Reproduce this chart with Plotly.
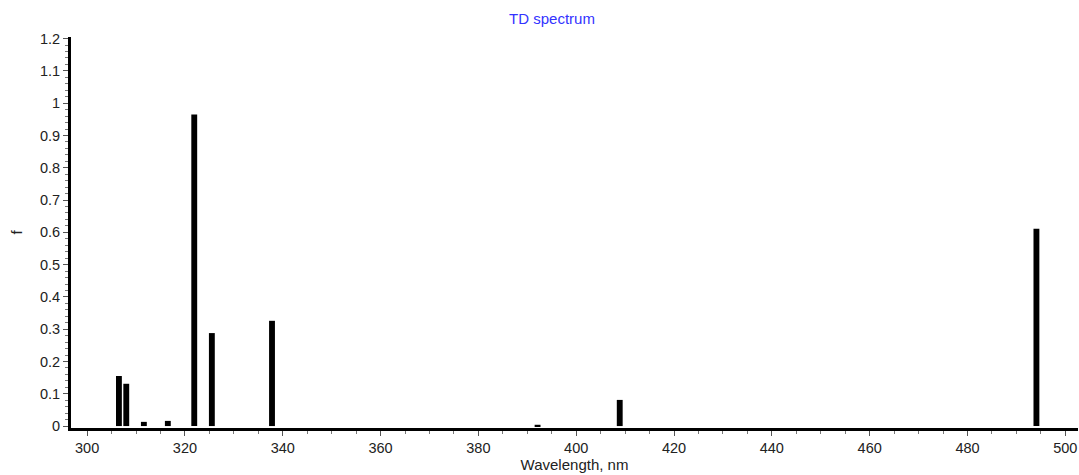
import plotly.graph_objects as go

wavelengths = [306.5, 308.0, 311.6, 316.5, 321.9, 325.5, 337.8, 392.1, 408.9, 494.1]
oscillator_f = [0.155, 0.131, 0.013, 0.016, 0.965, 0.288, 0.326, 0.004, 0.081, 0.611]

fig = go.Figure()
fig.add_trace(go.Bar(
    x=wavelengths, y=oscillator_f, width=1.2,
    marker=dict(color="black", line=dict(width=0)),
))

font_family = "Liberation Sans, Arial, sans-serif"
fig.update_layout(
    width=1079, height=475,
    margin=dict(l=71, r=1, t=37, b=47),
    paper_bgcolor="white", plot_bgcolor="white",
    showlegend=False,
    font=dict(family=font_family, size=14.5, color="#222"),
    title=dict(text="TD spectrum", x=552/1079, xanchor="center", y=1-19/475, yanchor="middle",
               font=dict(family=font_family, size=15, color="#3333ff")),
    xaxis=dict(
        range=[296.7, 502.6], tickmode="linear", tick0=300, dtick=20,
        showgrid=False, zeroline=False,
        showline=True, linecolor="black", linewidth=3,
        ticks="outside", ticklen=5, tickcolor="#555", tickwidth=1,
        minor=dict(ticks="outside", ticklen=3, tickcolor="#777", dtick=5, tick0=300),
        title=dict(text="Wavelength, nm", standoff=3, font=dict(size=15)),
    ),
    yaxis=dict(
        range=[-0.006, 1.205], tickmode="linear", tick0=0, dtick=0.1,
        showgrid=False, zeroline=False,
        showline=True, linecolor="black", linewidth=3,
        ticks="outside", ticklen=5, tickcolor="#555", tickwidth=1,
        minor=dict(ticks="outside", ticklen=3, tickcolor="#777", dtick=0.02, tick0=0),
        title=dict(text="f", standoff=14, font=dict(size=15)),
    ),
)

fig.write_html("out.html")
